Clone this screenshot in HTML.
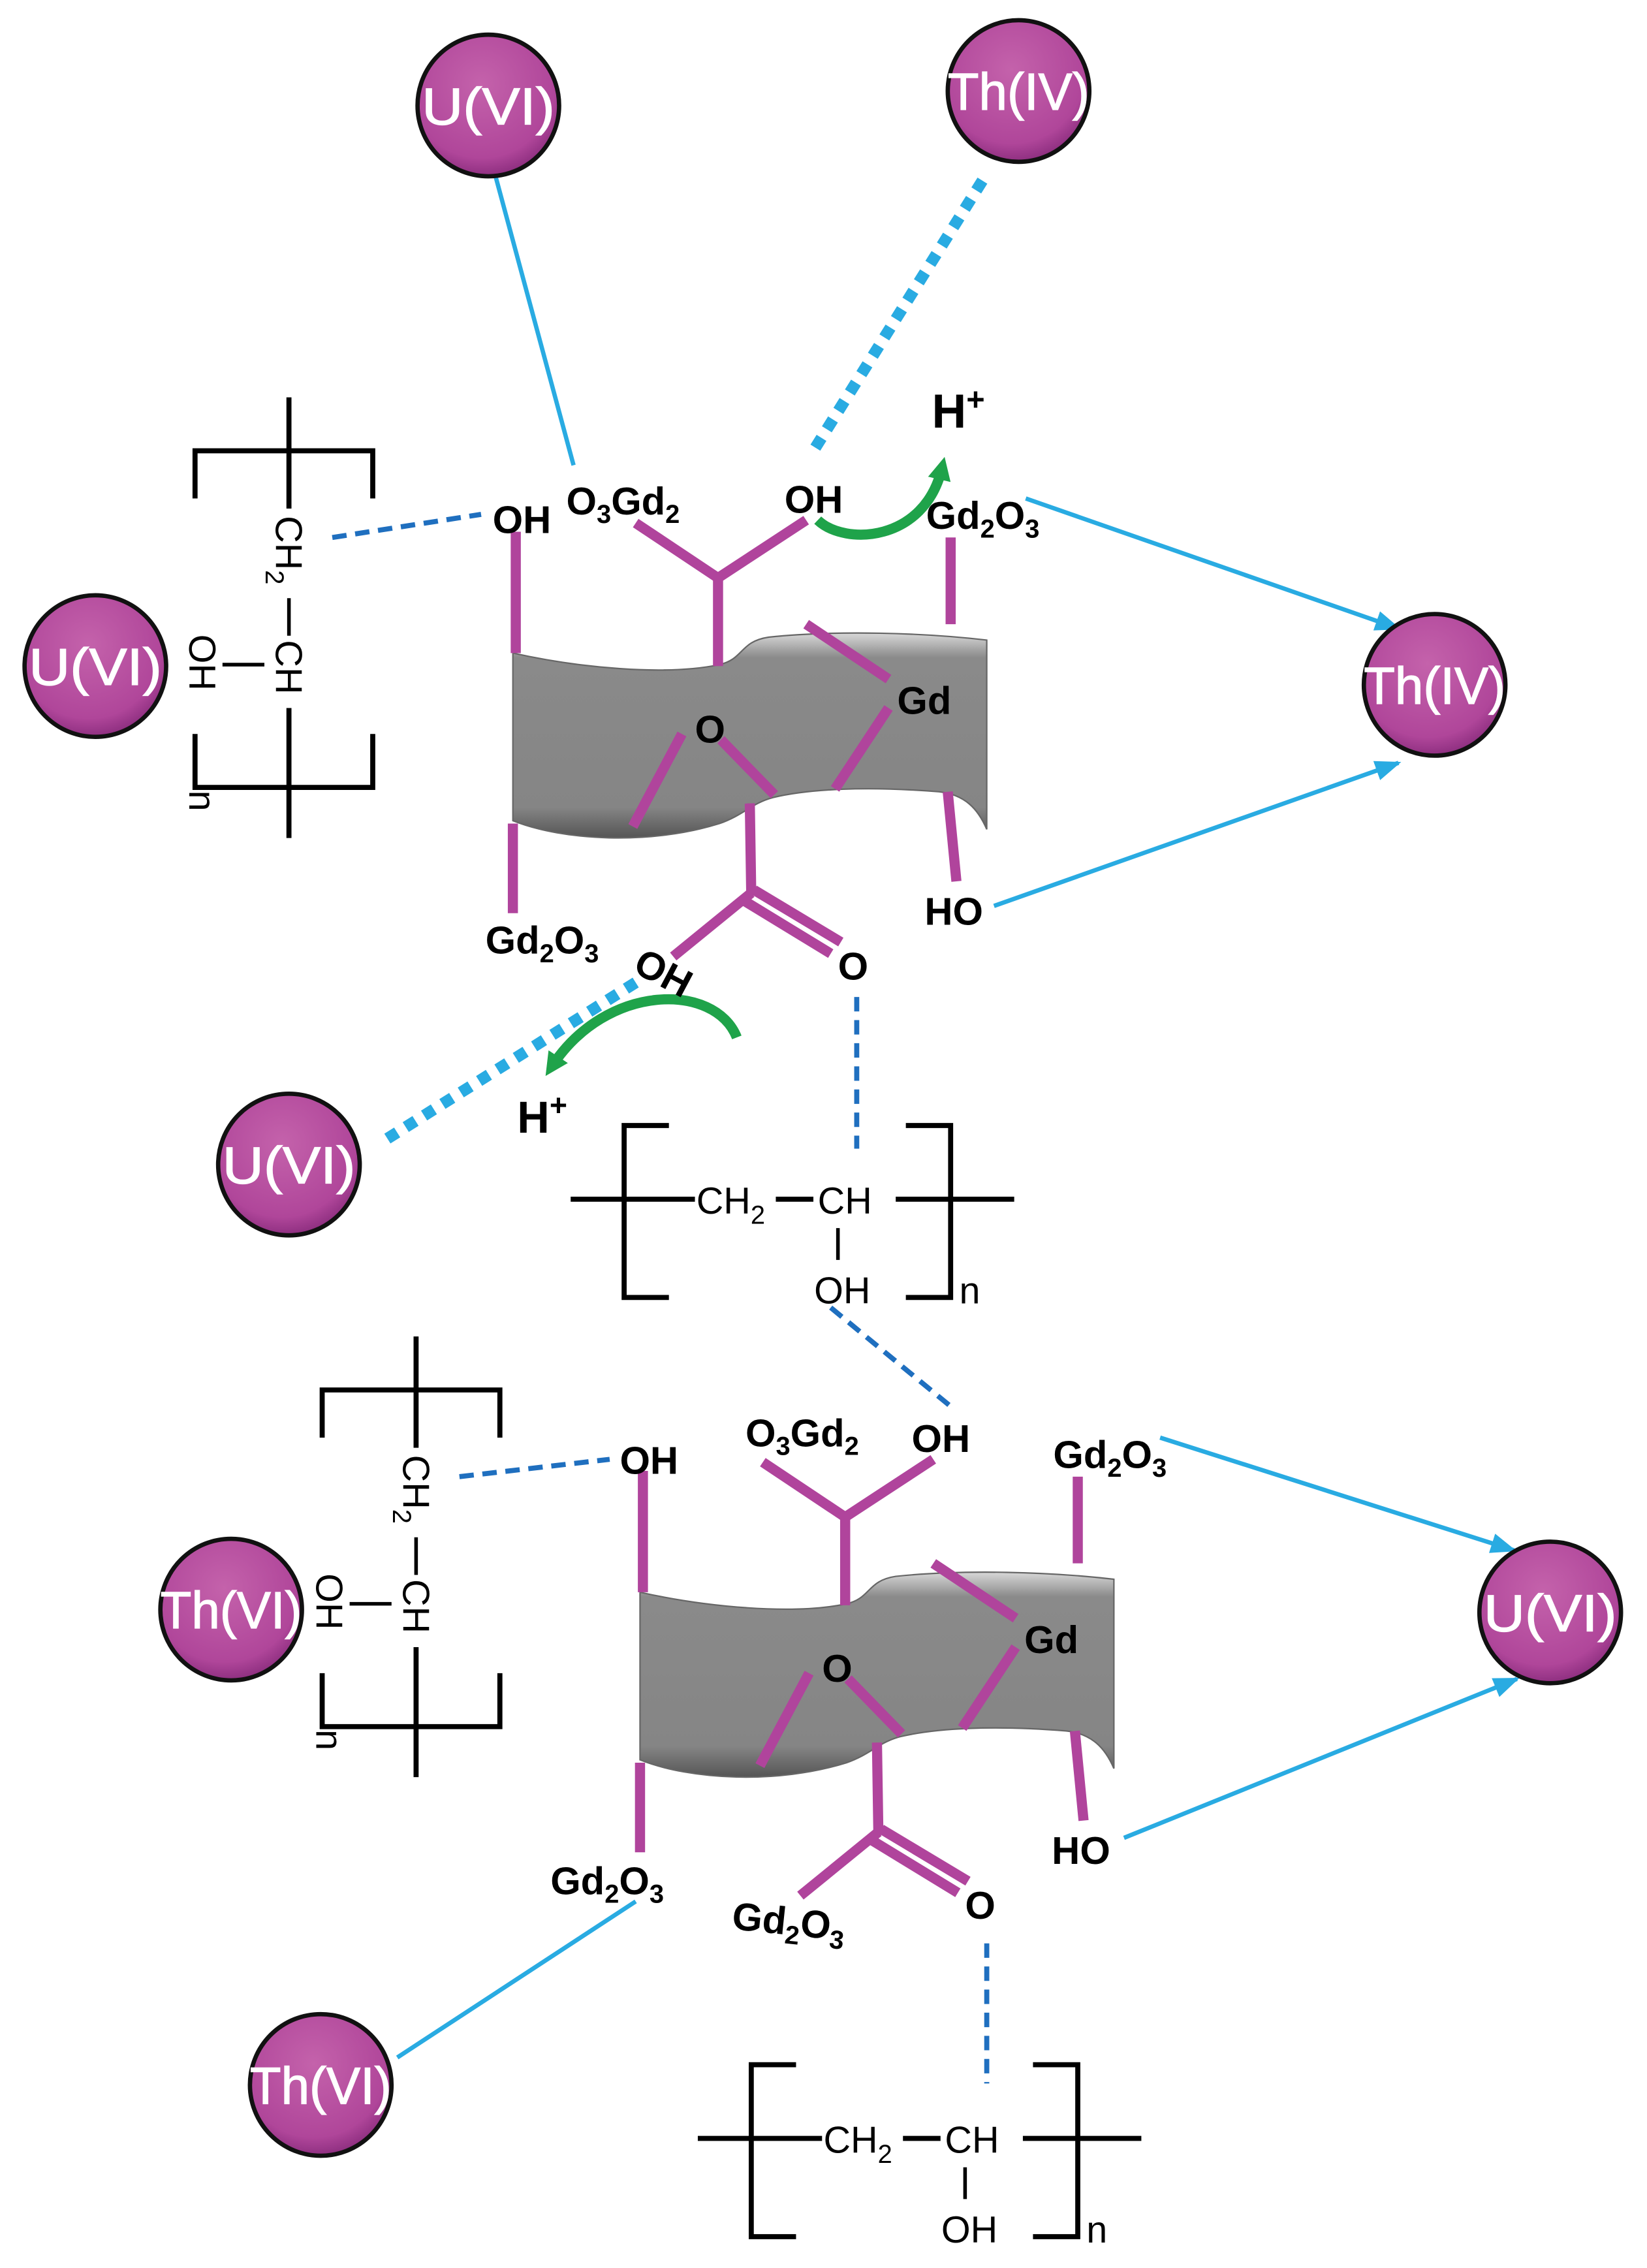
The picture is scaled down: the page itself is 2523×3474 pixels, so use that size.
<!DOCTYPE html>
<html><head><meta charset="utf-8"><style>
html,body{margin:0;padding:0;background:#fff;}
svg{display:block;}
text{font-family:"Liberation Sans",sans-serif;}
.lb{font-size:27px;fill:#000;font-weight:bold;}
.pl{font-size:26px;fill:#000;}
.ion{font-size:36px;fill:#fff;stroke:#fff;stroke-width:0.6;}
</style></head><body>
<svg width="2523" height="3474" viewBox="0 0 1140 1569.7" xmlns="http://www.w3.org/2000/svg">
<defs>
<radialGradient id="pg" cx="45%" cy="35%" r="65%">
<stop offset="0" stop-color="#c462ab"/><stop offset="0.8" stop-color="#b0469a"/><stop offset="1" stop-color="#8e2f80"/>
</radialGradient>
<linearGradient id="sg" x1="0" y1="0" x2="0" y2="1">
<stop offset="0" stop-color="#d8d8d8"/><stop offset="0.12" stop-color="#8a8a8a"/><stop offset="0.85" stop-color="#858585"/><stop offset="1" stop-color="#555"/>
</linearGradient>
<marker id="ab" markerWidth="18" markerHeight="14" refX="16" refY="7" orient="auto" markerUnits="userSpaceOnUse" viewBox="0 0 18 14">
<path d="M0,0 L18,7 L0,14 Z" fill="#29abe2"/></marker>
<marker id="ag" markerWidth="16" markerHeight="16" refX="8" refY="8" orient="auto" markerUnits="userSpaceOnUse" viewBox="0 0 16 16">
<path d="M0,0 L16,8 L0,16 Z" fill="#1fa34a"/></marker>

<g id="slab">
<path d="M355,452 C400,462 460,468 498,460 C515,456 512,444 532,441 C580,436 640,438 683,443 L683,574 C677,560 668,550 650,548 C600,544 560,546 535,552 C520,556 515,564 498,570 C450,585 390,582 355,568 Z" fill="url(#sg)" stroke="#666" stroke-width="1"/>
<g stroke="#b0449c" stroke-width="7" stroke-linecap="butt" fill="none">
<line x1="357" y1="368" x2="357" y2="452"/>
<line x1="355" y1="570" x2="355" y2="632"/>
<line x1="497" y1="398" x2="497" y2="461"/>
<line x1="497" y1="400" x2="440" y2="362"/>
<line x1="497" y1="400" x2="558" y2="360"/>
<line x1="658" y1="372" x2="658" y2="432"/>
<line x1="558" y1="432" x2="615" y2="470"/>
<line x1="615" y1="490" x2="578" y2="546"/>
<line x1="472" y1="508" x2="438" y2="572"/>
<line x1="499" y1="512" x2="536" y2="550"/>
<line x1="519" y1="556" x2="520" y2="620"/>
<line x1="520" y1="618" x2="466" y2="662"/>
<line x1="522" y1="616" x2="582" y2="652"/>
<line x1="516" y1="624" x2="575" y2="660"/>
<line x1="656" y1="548" x2="662" y2="610"/>
</g>
</g>

<g id="hpoly" fill="none" stroke="#000" stroke-width="3.5">
<line x1="395" y1="830" x2="481" y2="830"/>
<line x1="537" y1="830" x2="563" y2="830"/>
<line x1="620" y1="830" x2="702" y2="830"/>
<path d="M463,779 L432,779 L432,898 L463,898"/>
<path d="M627,779 L658,779 L658,898 L627,898"/>
<line x1="580" y1="850" x2="580" y2="872" stroke-width="2.5"/>
</g>
<g id="hpolyt">
<text class="pl" x="482" y="840">CH<tspan font-size="18" dy="7">2</tspan></text>
<text class="pl" x="566" y="840">CH</text>
<text class="pl" x="583" y="902" text-anchor="middle">OH</text>
<text class="pl" x="664" y="902">n</text>
</g>

<g id="vpoly">
<g fill="none" stroke="#000" stroke-width="3.5">
<line x1="200" y1="275" x2="200" y2="352"/>
<path d="M135,345 L135,312 L258,312 L258,345"/>
<line x1="200" y1="490" x2="200" y2="580"/>
<path d="M135,508 L135,545 L258,545 L258,508"/>
<line x1="200" y1="414" x2="200" y2="440" stroke-width="2.5"/>
<line x1="154" y1="460" x2="183" y2="460" stroke-width="2.5"/>
</g>
<text class="pl" transform="translate(191,357) rotate(90)">CH<tspan font-size="18" dy="7">2</tspan></text>
<text class="pl" transform="translate(191,443) rotate(90)">CH</text>
<text class="pl" transform="translate(131,439) rotate(90)">OH</text>
<text class="pl" transform="translate(131,547) rotate(90)">n</text>
</g>
</defs>

<g stroke="#29abe2" stroke-width="3" fill="none">
<line x1="343" y1="122" x2="397" y2="322"/>
<line x1="710" y1="345" x2="968" y2="435" marker-end="url(#ab)"/>
<line x1="688" y1="627" x2="968" y2="528" marker-end="url(#ab)"/>
<line x1="803" y1="995" x2="1048" y2="1073" marker-end="url(#ab)"/>
<line x1="778" y1="1272" x2="1050" y2="1162" marker-end="url(#ab)"/>
<line x1="275" y1="1424" x2="440" y2="1316"/>
</g>
<g stroke="#29abe2" stroke-width="8" stroke-dasharray="8 7" fill="none">
<line x1="680" y1="125" x2="563" y2="312"/>
<line x1="440" y1="680" x2="265" y2="790"/>
</g>
<g stroke="#1f6fbf" stroke-width="3.5" stroke-dasharray="10 6" fill="none">
<line x1="230" y1="372" x2="333" y2="356"/>
<line x1="593" y1="690" x2="593" y2="795"/>
<line x1="575" y1="905" x2="660" y2="975"/>
<line x1="318" y1="1022" x2="422" y2="1010"/>
<line x1="683" y1="1345" x2="683" y2="1442"/>
</g>
<path d="M566,360 C585,378 640,375 652,324" stroke="#1fa34a" stroke-width="7" fill="none" marker-end="url(#ag)"/>
<path d="M510,718 C495,680 420,680 382,738" stroke="#1fa34a" stroke-width="7" fill="none" marker-end="url(#ag)"/>

<use href="#slab"/>
<use href="#slab" transform="translate(88,650)"/>
<use href="#vpoly"/>
<use href="#vpoly" transform="translate(88,650)"/>
<use href="#hpoly"/><use href="#hpolyt"/>
<use href="#hpoly" transform="translate(88,650)"/><use href="#hpolyt" transform="translate(88,650)"/>

<g class="lb">
<text x="341" y="369">OH</text>
<text x="392" y="356">O<tspan font-size="18" dy="6">3</tspan><tspan dy="-6">Gd</tspan><tspan font-size="18" dy="6">2</tspan></text>
<text x="543" y="355">OH</text>
<text x="641" y="366">Gd<tspan font-size="18" dy="6">2</tspan><tspan dy="-6">O</tspan><tspan font-size="18" dy="6">3</tspan></text>
<text x="621" y="494">Gd</text>
<text x="481" y="514">O</text>
<text x="640" y="640">HO</text>
<text x="336" y="660">Gd<tspan font-size="18" dy="6">2</tspan><tspan dy="-6">O</tspan><tspan font-size="18" dy="6">3</tspan></text>
<text transform="translate(437,672) rotate(28)">OH</text>
<text x="580" y="678">O</text>
<text x="645" y="296" font-size="33">H<tspan font-size="22" dy="-12">+</tspan></text>
<text x="358" y="784" font-size="31">H<tspan font-size="21" dy="-12">+</tspan></text>
</g>
<g class="lb">
<text x="429" y="1020">OH</text>
<text x="516" y="1001">O<tspan font-size="18" dy="6">3</tspan><tspan dy="-6">Gd</tspan><tspan font-size="18" dy="6">2</tspan></text>
<text x="631" y="1005">OH</text>
<text x="729" y="1016">Gd<tspan font-size="18" dy="6">2</tspan><tspan dy="-6">O</tspan><tspan font-size="18" dy="6">3</tspan></text>
<text x="709" y="1144">Gd</text>
<text x="569" y="1164">O</text>
<text x="728" y="1290">HO</text>
<text x="381" y="1311">Gd<tspan font-size="18" dy="6">2</tspan><tspan dy="-6">O</tspan><tspan font-size="18" dy="6">3</tspan></text>
<text transform="translate(506,1335) rotate(6)">Gd<tspan font-size="18" dy="6">2</tspan><tspan dy="-6">O</tspan><tspan font-size="18" dy="6">3</tspan></text>
<text x="668" y="1328">O</text>
</g>

<g stroke="#111" stroke-width="3" fill="url(#pg)">
<circle cx="338" cy="73" r="49"/>
<circle cx="705" cy="63" r="49"/>
<circle cx="66" cy="461" r="49"/>
<circle cx="993" cy="474" r="49"/>
<circle cx="200" cy="806" r="49"/>
<circle cx="160" cy="1114" r="49"/>
<circle cx="1073" cy="1116" r="49"/>
<circle cx="222" cy="1443" r="49"/>
</g>
<g class="ion" text-anchor="middle">
<text x="338" y="86" textLength="92" lengthAdjust="spacingAndGlyphs">U(VI)</text>
<text x="705" y="76" textLength="98" lengthAdjust="spacingAndGlyphs">Th(IV)</text>
<text x="66" y="474" textLength="92" lengthAdjust="spacingAndGlyphs">U(VI)</text>
<text x="993" y="487" textLength="98" lengthAdjust="spacingAndGlyphs">Th(IV)</text>
<text x="200" y="819" textLength="92" lengthAdjust="spacingAndGlyphs">U(VI)</text>
<text x="160" y="1127" textLength="98" lengthAdjust="spacingAndGlyphs">Th(VI)</text>
<text x="1073" y="1129" textLength="92" lengthAdjust="spacingAndGlyphs">U(VI)</text>
<text x="222" y="1456" textLength="98" lengthAdjust="spacingAndGlyphs">Th(VI)</text>
</g>
</svg>
</body></html>
